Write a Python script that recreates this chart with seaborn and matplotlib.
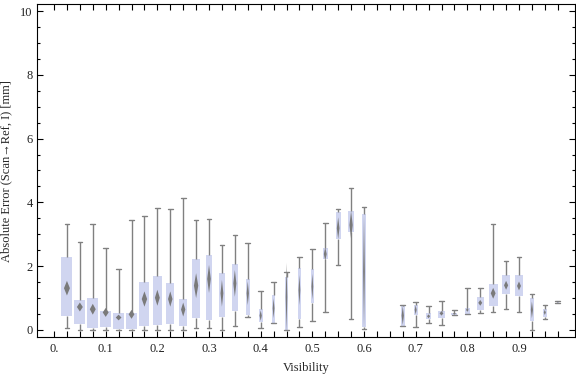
import numpy as np
import pandas as pd
import matplotlib
matplotlib.use("Agg")
import matplotlib.pyplot as plt
import seaborn as sns

# Box-whisker summaries per visibility bin
visibility = [0.025, 0.05, 0.075, 0.1, 0.125, 0.15, 0.175, 0.2, 0.225, 0.25,
              0.275, 0.3, 0.325, 0.35, 0.375, 0.4, 0.425, 0.45, 0.475, 0.5,
              0.525, 0.55, 0.575, 0.6,
              0.675, 0.7, 0.725, 0.75, 0.775, 0.8, 0.825, 0.85, 0.875, 0.9,
              0.925, 0.95, 0.975]
whisker_lo = [0.05, 0.0, 0.0, 0.0, 0.0, 0.0, 0.0, 0.0, 0.0, 0.0,
              0.05, 0.05, 0.0, 0.14, 0.40, 0.07, 0.21, 0.0, 0.10, 0.28,
              0.56, 2.04, 0.34, 0.03,
              0.11, 0.10, 0.21, 0.15, 0.46, 0.49, 0.53, 0.56, 0.65, 0.56,
              0.0, 0.34, 0.84]
q1 = [0.45, 0.20, 0.07, 0.10, 0.03, 0.03, 0.14, 0.17, 0.20, 0.14,
      0.36, 0.32, 0.42, 0.61, 0.47, 0.24, 0.22, 0.0, 0.33, 0.84,
      2.24, 2.86, 3.08, 0.10,
      0.14, 0.48, 0.33, 0.36, 0.47, 0.50, 0.64, 0.76, 1.14, 1.08,
      0.29, 0.41, 0.85]
center = [1.31, 0.72, 0.65, 0.55, 0.39, 0.49, 0.97, 1.01, 0.97, 0.64,
          1.39, 1.60, 1.15, 1.46, 1.15, 0.45, 0.68, 1.03, 1.25, 1.36,
          2.38, 3.19, 3.29, 1.83,
          0.45, 0.63, 0.43, 0.52, 0.51, 0.63, 0.85, 1.15, 1.40, 1.38,
          0.63, 0.55, 0.88]
q3 = [2.29, 0.93, 0.99, 0.60, 0.53, 0.53, 1.50, 1.69, 1.47, 0.97,
      2.23, 2.35, 1.79, 2.07, 1.60, 0.66, 1.10, 1.66, 1.93, 1.90,
      2.57, 3.69, 3.73, 3.64,
      0.75, 0.78, 0.53, 0.60, 0.53, 0.69, 1.03, 1.44, 1.72, 1.72,
      0.99, 0.65, 0.90]
whisker_hi = [3.31, 2.77, 3.31, 2.56, 1.92, 3.44, 3.56, 3.81, 3.78, 4.13,
              3.44, 3.48, 2.65, 2.97, 2.72, 1.21, 1.49, 1.83, 2.28, 2.53,
              3.34, 3.78, 4.44, 3.85,
              0.77, 0.87, 0.76, 0.92, 0.64, 1.33, 1.33, 3.31, 2.15, 2.28,
              1.13, 0.78, 0.91]
# half-height of the confidence diamond
diamond_ci = [0.23, 0.14, 0.17, 0.14, 0.09, 0.14, 0.24, 0.25, 0.24, 0.22,
              0.39, 0.44, 0.42, 0.42, 0.37, 0.16, 0.31, 1.08, 0.47, 0.40,
              0.21, 0.34, 0.44, 1.77,
              0.29, 0.14, 0.06, 0.07, 0.03, 0.06, 0.09, 0.17, 0.14, 0.14,
              0.26, 0.08, 0.03]
# relative group size (drives box width)
group_weight = [1.0, 1.0, 1.0, 1.0, 0.97, 0.97, 0.91, 0.82, 0.75, 0.73,
                0.73, 0.61, 0.48, 0.52, 0.39, 0.39, 0.30, 0.27, 0.30, 0.30,
                0.48, 0.45, 0.55, 0.30,
                0.39, 0.34, 0.52, 0.64, 0.55, 0.43, 0.66, 0.82, 0.70, 0.66,
                0.36, 0.36, 0.18]

box_color = "#cbd1f5"
line_color = "#808080"
diamond_color = "#7a7a7a"
max_width = 0.85 * 0.025

sns.set_style("ticks")
plt.rcParams["font.family"] = ["Liberation Serif", "DejaVu Serif"]

fig = plt.figure(figsize=(5.76, 3.77), dpi=100)
ax = fig.add_axes([0.0642, 0.1053, 0.9346, 0.8841])

for i, x in enumerate(visibility):
    # five-number summary -> one small frame per box
    df = pd.DataFrame({
        "vis": [x] * 5,
        "err": [whisker_lo[i], q1[i], center[i], q3[i], whisker_hi[i]],
    })
    w = max_width * group_weight[i]
    sns.boxplot(data=df, x="vis", y="err", native_scale=True, ax=ax,
                width=w, whis=(0, 100), showfliers=False,
                color=box_color, linecolor=line_color, linewidth=1.0,
                boxprops={"edgecolor": "none", "linewidth": 0},
                medianprops={"linewidth": 0},
                capwidths=0.009)

    # mean confidence diamond
    hw = 0.27 * w
    ax.fill([x - hw, x, x + hw, x], [center[i], center[i] + diamond_ci[i],
            center[i], center[i] - diamond_ci[i]],
            color=diamond_color, lw=0, zorder=4)

ax.set_xlim(-0.033, 1.009)
ax.set_ylim(-0.23, 10.22)

xt = np.arange(40) * 0.025
ax.set_xticks(xt)
ax.set_xticklabels(["0." if j == 0 else (f"{j * 0.025:.1f}" if j % 4 == 0 else "")
                    for j in range(40)])
ax.set_yticks(np.arange(0, 11, 2))
ax.set_yticks(np.arange(0, 10.5, 0.5), minor=True)

for side in ["top", "right", "bottom", "left"]:
    ax.spines[side].set_visible(True)
    ax.spines[side].set_color("black")
    ax.spines[side].set_linewidth(0.8)

ax.tick_params(axis="both", which="both", direction="in", top=True, right=True,
               color="black", width=0.8, labelsize=9, labelcolor="#222222")
ax.tick_params(axis="x", length=4, pad=4)
ax.tick_params(axis="y", which="major", length=4, pad=3)
ax.tick_params(axis="y", which="minor", length=2.5)

ax.set_xlabel("Visibility", fontsize=9)
ax.set_ylabel("Absolute Error (Scan\u2192Ref, I) [mm]", fontsize=9)
ax.xaxis.set_label_coords(0.5, -0.075)
ax.yaxis.set_label_coords(-0.045, 0.5)

fig.savefig("out.png", dpi=100)
